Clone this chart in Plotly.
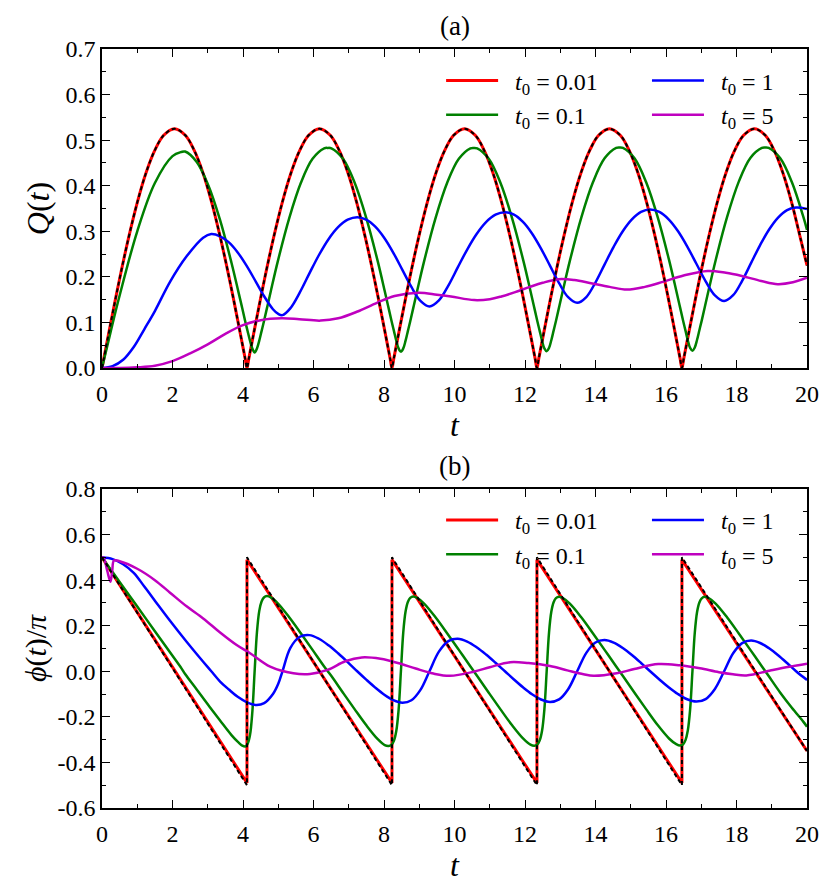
import plotly.graph_objects as go

# ---------------- data ----------------
# panel (a): Q(t)
t_red_q = [0, 0.05, 0.25, 0.5, 0.75, 1.0, 1.25, 1.5, 1.75, 2.056, 2.363, 2.613, 2.863,
           3.113, 3.363, 3.613, 3.863, 4.063, 4.113,
           4.163, 4.363, 4.613, 4.863, 5.113, 5.363, 5.613, 5.863, 6.169, 6.476, 6.726,
           6.976, 7.226, 7.476, 7.726, 7.976, 8.176, 8.226,
           8.276, 8.476, 8.726, 8.976, 9.226, 9.476, 9.726, 9.976, 10.282, 10.589, 10.839,
           11.089, 11.339, 11.589, 11.839, 12.089, 12.289, 12.339,
           12.389, 12.589, 12.839, 13.089, 13.339, 13.589, 13.839, 14.089, 14.395, 14.702,
           14.952, 15.202, 15.452, 15.702, 15.952, 16.202, 16.402, 16.452,
           16.502, 16.702, 16.952, 17.202, 17.452, 17.702, 17.952, 18.202, 18.508, 18.815,
           19.065, 19.315, 19.565, 19.815, 20.0]
q_red = [0, 0.02, 0.0996, 0.196, 0.2844, 0.363, 0.4285, 0.478, 0.5106, 0.525, 0.5106, 0.478,
         0.4285, 0.363, 0.2844, 0.196, 0.0996, 0.02, 0,
         0.02, 0.0996, 0.196, 0.2844, 0.363, 0.4285, 0.478, 0.5106, 0.525, 0.5106, 0.478,
         0.4285, 0.363, 0.2844, 0.196, 0.0996, 0.02, 0,
         0.02, 0.0996, 0.196, 0.2844, 0.363, 0.4285, 0.478, 0.5106, 0.525, 0.5106, 0.478,
         0.4285, 0.363, 0.2844, 0.196, 0.0996, 0.02, 0,
         0.02, 0.0996, 0.196, 0.2844, 0.363, 0.4285, 0.478, 0.5106, 0.525, 0.5106, 0.478,
         0.4285, 0.363, 0.2844, 0.196, 0.0996, 0.02, 0,
         0.02, 0.0996, 0.196, 0.2844, 0.363, 0.4285, 0.478, 0.5106, 0.525, 0.5106, 0.478,
         0.4285, 0.363, 0.2844, 0.225]

t_green = [0, 0.25, 0.5, 1.0, 1.5, 2.0, 2.25,
           2.358, 2.687, 3.015, 3.344, 3.673, 3.870, 3.979, 4.067, 4.133, 4.1985, 4.264, 4.33,
           4.396, 4.4615, 4.527, 4.593, 4.681, 4.79, 4.987, 5.316, 5.645, 5.973, 6.302,
           6.405,
           6.508, 6.837, 7.165, 7.494, 7.823, 8.020, 8.129, 8.217, 8.283, 8.3485, 8.414, 8.48,
           8.546, 8.6115, 8.677, 8.743, 8.831, 8.94, 9.137, 9.466, 9.795, 10.123, 10.452,
           10.5475,
           10.643, 10.972, 11.30, 11.629, 11.958, 12.155, 12.264, 12.352, 12.418, 12.4835, 12.549, 12.615,
           12.681, 12.7465, 12.812, 12.878, 12.966, 13.075, 13.272, 13.601, 13.93, 14.258, 14.587,
           14.6825,
           14.778, 15.107, 15.435, 15.764, 16.093, 16.29, 16.399, 16.487, 16.553, 16.6185, 16.684, 16.75,
           16.816, 16.8815, 16.947, 17.013, 17.101, 17.21, 17.407, 17.736, 18.065, 18.393, 18.722,
           18.8175,
           18.913, 19.242, 19.57, 19.899, 20.0]
q_green = [0, 0.081, 0.159, 0.300, 0.406, 0.465, 0.474,
           0.475, 0.452, 0.401, 0.326, 0.231, 0.167, 0.131, 0.101, 0.080, 0.060, 0.043, 0.034,
           0.043, 0.060, 0.081, 0.102, 0.132, 0.169, 0.234, 0.330, 0.407, 0.459, 0.482,
           0.483,
           0.482, 0.459, 0.407, 0.330, 0.234, 0.169, 0.132, 0.102, 0.081, 0.060, 0.043, 0.036,
           0.043, 0.060, 0.081, 0.102, 0.132, 0.169, 0.234, 0.330, 0.407, 0.459, 0.482,
           0.483,
           0.482, 0.459, 0.407, 0.330, 0.234, 0.169, 0.132, 0.102, 0.081, 0.060, 0.043, 0.037,
           0.044, 0.061, 0.082, 0.103, 0.133, 0.170, 0.235, 0.331, 0.408, 0.460, 0.483,
           0.484,
           0.483, 0.460, 0.408, 0.331, 0.235, 0.170, 0.133, 0.103, 0.082, 0.061, 0.044, 0.038,
           0.045, 0.062, 0.083, 0.104, 0.134, 0.171, 0.236, 0.332, 0.409, 0.461, 0.483,
           0.484,
           0.483, 0.460, 0.408, 0.331, 0.303]

t_blue = [0, 0.3, 0.6, 0.9, 1.2, 1.5, 1.93, 2.4, 2.87, 3.10,
          3.35, 3.6, 3.85, 4.1, 4.37, 4.6, 4.85, 5.0, 5.12,
          5.341, 5.6125, 5.884, 6.155, 6.426, 6.6975, 6.969, 7.24,
          7.496, 7.7525, 8.009, 8.265, 8.521, 8.7775, 9.034, 9.29,
          9.5575, 9.825, 10.0925, 10.36, 10.6275, 10.895, 11.1625, 11.43,
          11.686, 11.9425, 12.199, 12.455, 12.711, 12.9675, 13.224, 13.48,
          13.739, 13.9975, 14.256, 14.515, 14.774, 15.0325, 15.291, 15.55,
          15.8125, 16.075, 16.3375, 16.6, 16.8625, 17.125, 17.3875, 17.65,
          17.905, 18.16, 18.415, 18.67, 18.925, 19.18, 19.435, 19.69,
          20.0]
q_blue = [0, 0.004, 0.018, 0.046, 0.085, 0.125, 0.189, 0.245, 0.286, 0.294,
          0.289, 0.2756, 0.2536, 0.2247, 0.1886, 0.1574, 0.129, 0.1187, 0.116,
          0.1308, 0.1659, 0.2076, 0.248, 0.2827, 0.309, 0.3254, 0.331,
          0.3257, 0.3101, 0.2853, 0.2528, 0.2154, 0.1778, 0.1473, 0.135,
          0.1483, 0.1808, 0.2207, 0.26, 0.2941, 0.3202, 0.3365, 0.342,
          0.3366, 0.3207, 0.2953, 0.2621, 0.2241, 0.186, 0.1553, 0.143,
          0.1558, 0.1876, 0.227, 0.266, 0.3001, 0.3261, 0.3425, 0.348,
          0.3425, 0.3264, 0.3007, 0.2671, 0.2287, 0.1902, 0.1594, 0.147,
          0.1597, 0.1913, 0.2306, 0.2697, 0.3039, 0.33, 0.3464, 0.352,
          0.349]

t_mag_q = [0, 0.5, 1.0, 1.5, 2.0, 2.5, 3.0, 3.5, 4.0, 4.5, 5.1, 5.6, 6.2, 6.7, 7.25,
           7.8, 8.3, 8.98, 9.5, 9.9, 10.56, 11.0, 11.33, 11.7, 12.14, 12.5, 12.96,
           13.4, 13.87, 14.4, 14.89, 15.4, 15.91, 16.5, 17.18, 17.7, 18.15, 18.7,
           19.17, 19.6, 20.0]
q_mag = [0, 0.0, 0.0015, 0.005, 0.015, 0.032, 0.052, 0.075, 0.094, 0.105, 0.109, 0.107,
         0.104, 0.109, 0.124, 0.143, 0.158, 0.165, 0.161, 0.157, 0.149, 0.151, 0.157,
         0.166, 0.178, 0.187, 0.195, 0.193, 0.186, 0.178, 0.172, 0.178, 0.189, 0.203,
         0.213, 0.209, 0.202, 0.191, 0.184, 0.188, 0.198]

# panel (b): phi(t)/pi
t_red_phi = [0, 4.113, 4.113, 8.226, 8.226, 12.339, 12.339, 16.452, 16.452, 20.0]
phi_red = [0.5, -0.49, 0.49, -0.49, 0.49, -0.49, 0.49, -0.49, 0.49, -0.35]
phi_exact = [0.5, -0.5, 0.5, -0.5, 0.5, -0.5, 0.5, -0.5, 0.5, -0.35]

phi_green = [0.5, 0.446, 0.392, 0.284, 0.176, 0.068, 0.014,
             -0.012, -0.08, -0.148, -0.215, -0.28, -0.312, -0.326, -0.33, -0.318, -0.28, -0.18, 0.0,
             0.172, 0.265, 0.306, 0.324, 0.330, 0.324, 0.298, 0.236, 0.166, 0.094, 0.021,
             0.0,
             -0.021, -0.094, -0.166, -0.236, -0.298, -0.324, -0.328, -0.322, -0.304, -0.262, -0.170, 0.0,
             0.170, 0.262, 0.304, 0.322, 0.328, 0.322, 0.297, 0.236, 0.166, 0.094, 0.021,
             0.0,
             -0.021, -0.094, -0.166, -0.236, -0.297, -0.322, -0.327, -0.321, -0.303, -0.261, -0.169, 0.0,
             0.169, 0.261, 0.303, 0.321, 0.327, 0.321, 0.297, 0.236, 0.166, 0.094, 0.021,
             0.0,
             -0.021, -0.094, -0.166, -0.236, -0.296, -0.320, -0.326, -0.320, -0.302, -0.260, -0.168, 0.0,
             0.168, 0.260, 0.302, 0.320, 0.327, 0.321, 0.297, 0.236, 0.166, 0.094, 0.021,
             0.0,
             -0.021, -0.094, -0.160, -0.222, -0.243]

phi_blue = [0.5, 0.492, 0.47, 0.432, 0.372, 0.31, 0.222, 0.13, 0.042, 0.0,
            -0.045, -0.08, -0.112, -0.135, -0.148, -0.140, -0.10, -0.055, 0.0,
            0.1019, 0.1514, 0.1587, 0.1427, 0.1143, 0.0791, 0.0404, 0.0,
            -0.0367, -0.0717, -0.1027, -0.1265, -0.1379, -0.1273, -0.0817, 0.0,
            0.0861, 0.1326, 0.1425, 0.1304, 0.1054, 0.0734, 0.0376, 0.0,
            -0.0361, -0.0704, -0.1007, -0.1238, -0.1344, -0.1234, -0.0788, 0.0,
            0.081, 0.1264, 0.137, 0.1259, 0.1022, 0.0713, 0.0365, 0.0,
            -0.0358, -0.0699, -0.0999, -0.1228, -0.1331, -0.1219, -0.0776, 0.0,
            0.079, 0.1238, 0.1347, 0.1241, 0.1009, 0.0705, 0.0361, 0.0,
            -0.038]

t_mag_phi = [0, 0.05, 0.15, 0.24, 0.29, 0.34, 0.5, 1.0, 1.5, 1.93, 2.4, 2.87, 3.35, 3.82,
             4.2, 4.77, 5.43, 5.9, 6.4, 6.9, 7.37, 7.9, 8.45, 8.9, 9.4, 9.87, 10.54, 11.0,
             11.58, 12.1, 12.71, 13.2, 13.66, 13.94, 14.6, 15.1, 15.78, 16.4, 16.96,
             17.5, 17.9, 18.28, 19.03, 19.5, 20.0]
phi_mag = [0.5, 0.497, 0.44, 0.393, 0.44, 0.486, 0.483, 0.45, 0.40, 0.345, 0.285, 0.232,
           0.17, 0.115, 0.079, 0.02, -0.009, -0.012, 0.006, 0.044, 0.061, 0.055, 0.034,
           0.012, -0.01, -0.02, -0.002, 0.018, 0.04, 0.036, 0.023, 0.004, -0.013, -0.02,
           -0.009, 0.01, 0.032, 0.026, 0.013, -0.004, -0.013, -0.018, 0.006, 0.02, 0.033]

series_names = ["\u2002<i>t</i><sub>0</sub> = 0.01", "\u2002<i>t</i><sub>0</sub> = 0.1",
                "\u2002<i>t</i><sub>0</sub> = 1", "\u2002<i>t</i><sub>0</sub> = 5"]
series_colors = ["#ff0000", "#008000", "#0000ff", "#bf00bf"]

x_tick_vals = [0, 2, 4, 6, 8, 10, 12, 14, 16, 18, 20]
x_tick_text = ["0", "2", "4", "6", "8", "10", "12", "14", "16", "18", "20"]
q_tick_vals = [0.0, 0.1, 0.2, 0.3, 0.4, 0.5, 0.6, 0.7]
q_tick_text = ["0.0", "0.1", "0.2", "0.3", "0.4", "0.5", "0.6", "0.7"]
phi_tick_vals = [-0.6, -0.4, -0.2, 0.0, 0.2, 0.4, 0.6, 0.8]
phi_tick_text = ["-0.6", "-0.4", "-0.2", "0.0", "0.2", "0.4", "0.6", "0.8"]

for a, b in [(t_red_q, q_red), (t_green, q_green), (t_green, phi_green),
             (t_blue, q_blue), (t_blue, phi_blue), (t_mag_q, q_mag),
             (t_mag_phi, phi_mag), (t_red_phi, phi_red), (t_red_phi, phi_exact)]:
    assert len(a) == len(b), (len(a), len(b))

FONT = "Liberation Serif"
fig = go.Figure()

# legend columns: (t0=0.01, t0=0.1) in the first, (t0=1, t0=5) in the second
panels = [
    ("x", "y", ("legend", "legend", "legend2", "legend2"),
     [(t_red_q, q_red), (t_green, q_green), (t_blue, q_blue), (t_mag_q, q_mag)],
     (t_red_q, q_red), "spline"),
    ("x2", "y2", ("legend3", "legend3", "legend4", "legend4"),
     [(t_red_phi, phi_red), (t_green, phi_green), (t_blue, phi_blue), (t_mag_phi, phi_mag)],
     (t_red_phi, phi_exact), "linear"),
]
for xa, ya, lgs, curves, exact, red_shape in panels:
    for i, (tx, vy) in enumerate(curves):
        shape = red_shape if i == 0 else "spline"
        fig.add_trace(go.Scatter(
            x=tx, y=vy, mode="lines", name=series_names[i],
            line=dict(color=series_colors[i], width=3.0 if i == 0 else 2.5, shape=shape),
            xaxis=xa, yaxis=ya, legend=lgs[i]))
    fig.add_trace(go.Scatter(
        x=exact[0], y=exact[1], mode="lines", showlegend=False,
        line=dict(color="black", width=2.0, dash="4px,3px", shape=red_shape),
        xaxis=xa, yaxis=ya))

axis_common = dict(
    showline=True, linecolor="black", linewidth=1.6, mirror="ticks",
    ticks="inside", ticklen=8, tickwidth=1.3, tickcolor="black",
    showgrid=False, zeroline=False, automargin=False,
    tickfont=dict(family=FONT, size=24, color="black"),
)
minor_x = dict(ticks="inside", ticklen=4.5, tickwidth=1.2, tickcolor="black",
               tickmode="linear", tick0=0, dtick=1, showgrid=False)


def legend_box(x, y):
    return dict(orientation="v", x=x, y=y, xanchor="left", yanchor="top",
                itemwidth=52, bgcolor="rgba(0,0,0,0)",
                font=dict(family=FONT, size=24), traceorder="normal")


fig.update_layout(
    width=822, height=882, template="none",
    paper_bgcolor="white", plot_bgcolor="white",
    margin=dict(l=94, r=23, t=41, b=82),
    font=dict(family=FONT, size=24, color="black"),
    xaxis=dict(axis_common, domain=[0, 1], anchor="y", range=[0, 20],
               tickmode="array", tickvals=x_tick_vals, ticktext=x_tick_text,
               minor=minor_x, ticklabelstandoff=3,
               title=dict(text="<i>t</i>", font=dict(family=FONT, size=32), standoff=0)),
    yaxis=dict(axis_common, domain=[0.5797, 1.0], anchor="x", range=[0, 0.7],
               tickmode="array", tickvals=q_tick_vals, ticktext=q_tick_text,
               minor=dict(ticks="inside", ticklen=4.5, tickwidth=1.2, tickcolor="black",
                          tickmode="linear", tick0=0, dtick=0.05, showgrid=False),
               title=dict(text="<i>Q</i>(<i>t</i>)", font=dict(family=FONT, size=32), standoff=6)),
    xaxis2=dict(axis_common, domain=[0, 1], anchor="y2", range=[0, 20],
                tickmode="array", tickvals=x_tick_vals, ticktext=x_tick_text,
                minor=minor_x, ticklabelstandoff=3,
                title=dict(text="<i>t</i>", font=dict(family=FONT, size=32), standoff=0)),
    yaxis2=dict(axis_common, domain=[0.0, 0.4203], anchor="x2", range=[-0.6, 0.8],
                tickmode="array", tickvals=phi_tick_vals, ticktext=phi_tick_text,
                minor=dict(ticks="inside", ticklen=4.5, tickwidth=1.2, tickcolor="black",
                           tickmode="linear", tick0=-0.6, dtick=0.1, showgrid=False),
                title=dict(text="<i>ϕ</i>(<i>t</i>)/<i>π</i>", font=dict(family=FONT, size=30), standoff=2)),
    legend=legend_box(0.481, 0.9875),
    legend2=legend_box(0.773, 0.9875),
    legend3=legend_box(0.481, 0.4085),
    legend4=legend_box(0.773, 0.4085),
    annotations=[
        dict(text="(a)", x=0.5, y=1.0302, xref="paper", yref="paper", showarrow=False,
             xanchor="center", yanchor="middle", font=dict(family=FONT, size=27)),
        dict(text="(b)", x=0.5, y=0.4506, xref="paper", yref="paper", showarrow=False,
             xanchor="center", yanchor="middle", font=dict(family=FONT, size=27)),
    ],
)

fig.write_html("out.html")
